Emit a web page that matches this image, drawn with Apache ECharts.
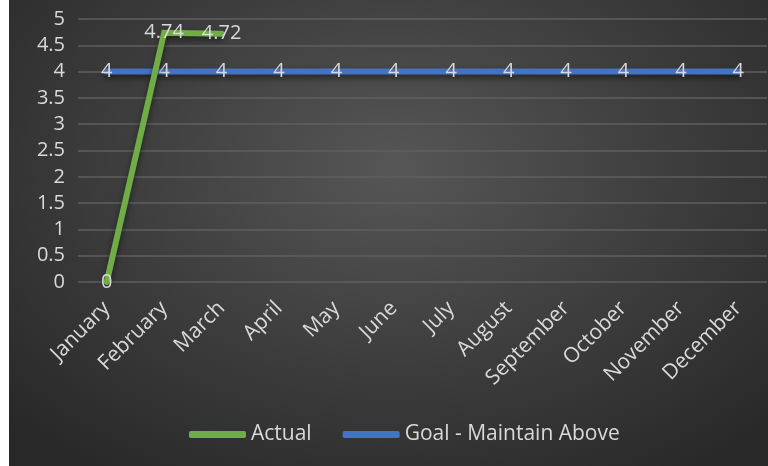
<!DOCTYPE html>
<html>
<head>
<meta charset="utf-8">
<script src="https://cdn.jsdelivr.net/npm/echarts@6/dist/echarts.min.js"></script>
<style>
  html, body { margin: 0; padding: 0; background: #ffffff; }
  #chart {
    position: absolute; left: 9px; top: 0; width: 759px; height: 466px;
    background: radial-gradient(ellipse 70% 80% at 51% 36%, #565656 0%, #3c3c3c 55%, #282828 100%);
  }
</style>
</head>
<body>
<div id="chart"></div>
<script>
// Monthly performance vs. goal
const months = ['January', 'February', 'March', 'April', 'May', 'June', 'July',
  'August', 'September', 'October', 'November', 'December'];
const actual = [0, 4.74, 4.72, null, null, null, null, null, null, null, null, null];
const goal = [4, 4, 4, 4, 4, 4, 4, 4, 4, 4, 4, 4];
const yTicks = { min: 0, max: 5, step: 0.5 };

const textColor = '#d9d9d9';
const fontFamily = '"Open Sans", "Noto Sans", sans-serif';

const chart = echarts.init(document.getElementById('chart'), null, { renderer: 'canvas' });

const labelStyle = {
  show: true,
  position: 'inside',
  color: textColor,
  fontSize: 20,
  fontFamily: fontFamily
};

chart.setOption({
  backgroundColor: 'transparent',
  animation: false,
  grid: { left: 69, right: 1, top: 19, bottom: 184, containLabel: false },
  legend: {
    left: 175,
    top: 419,
    itemWidth: 57,
    itemHeight: 7,
    itemGap: 31,
    icon: 'roundRect',
    textStyle: { color: textColor, fontSize: 21, fontFamily: fontFamily },
    data: ['Actual', 'Goal - Maintain Above']
  },
  xAxis: {
    type: 'category',
    data: months,
    boundaryGap: true,
    axisLine: { show: false },
    axisTick: { show: false },
    axisLabel: {
      interval: 0,
      rotate: 45,
      margin: 23,
      color: textColor,
      fontSize: 21,
      fontFamily: fontFamily
    }
  },
  yAxis: {
    type: 'value',
    min: yTicks.min,
    max: yTicks.max,
    interval: yTicks.step,
    axisLine: { show: false },
    axisTick: { show: false },
    axisLabel: {
      margin: 13,
      color: textColor,
      fontSize: 20,
      fontFamily: fontFamily
    },
    splitLine: { lineStyle: { color: '#5f5f5f', width: 1.5 } }
  },
  series: [
    {
      name: 'Goal - Maintain Above',
      type: 'line',
      data: goal,
      z: 2,
      symbol: 'circle',
      symbolSize: 0,
      showSymbol: true,
      lineStyle: {
        color: '#4472c4', width: 6, cap: 'round',
        shadowColor: 'rgba(0,0,0,0.55)', shadowBlur: 6, shadowOffsetY: 3
      },
      itemStyle: { color: '#4472c4' },
      label: labelStyle
    },
    {
      name: 'Actual',
      type: 'line',
      data: actual,
      z: 3,
      symbol: 'circle',
      symbolSize: 0,
      showSymbol: true,
      connectNulls: false,
      lineStyle: {
        color: '#70ad47', width: 6, cap: 'round', join: 'miter',
        shadowColor: 'rgba(0,0,0,0.5)', shadowBlur: 6, shadowOffsetY: 3
      },
      itemStyle: { color: '#70ad47' },
      label: labelStyle
    }
  ]
});
</script>
</body>
</html>
